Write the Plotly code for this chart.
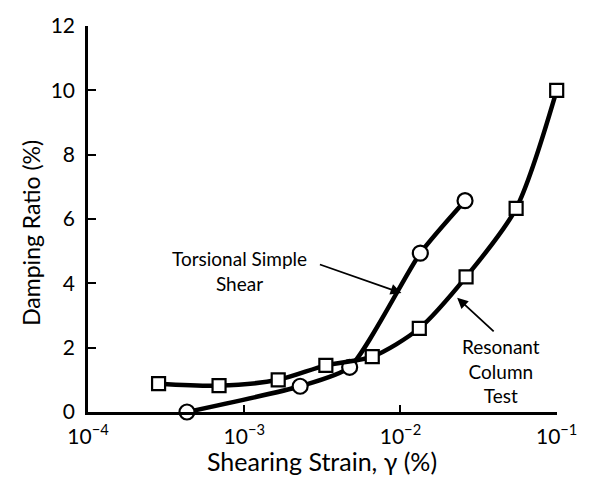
import plotly.graph_objects as go

# Resonant column test results
rc_strain = [2.83e-4, 6.9e-4, 1.65e-3, 3.33e-3, 6.6e-3, 1.32e-2, 2.63e-2, 5.5e-2, 1.0e-1]
rc_damping = [0.88, 0.82, 1.0, 1.45, 1.72, 2.6, 4.2, 6.33, 10.0]

# Torsional simple shear results
ts_strain = [4.3e-4, 2.28e-3, 4.73e-3, 1.34e-2, 2.59e-2]
ts_damping = [0.0, 0.8, 1.39, 4.94, 6.57]

x_tickvals = [1e-4, 1e-3, 1e-2, 1e-1]
x_ticktext = ["10<sup>−4</sup>", "10<sup>−3</sup>", "10<sup>−2</sup>", "10<sup>−1</sup>"]
y_tickvals = [0, 2, 4, 6, 8, 10, 12]

FONT = "Lato"

fig = go.Figure()

fig.add_trace(go.Scatter(
    x=ts_strain, y=ts_damping, mode="lines+markers",
    line=dict(color="black", width=4.5, shape="spline", smoothing=0.6),
    marker=dict(symbol="circle", size=15, color="white",
                line=dict(color="black", width=2.2)),
    cliponaxis=False, showlegend=False,
))
fig.add_trace(go.Scatter(
    x=rc_strain, y=rc_damping, mode="lines+markers",
    line=dict(color="black", width=4.5, shape="spline", smoothing=0.8),
    marker=dict(symbol="square", size=13, color="white",
                line=dict(color="black", width=2.2)),
    cliponaxis=False, showlegend=False,
))

# Curve labels with arrows (x positions in log10 units on the log axis)
fig.add_annotation(x=-1.994, y=3.70, xref="x", yref="y", axref="pixel", ayref="pixel",
                   ax=-83, ay=-29, showarrow=True, arrowhead=2, arrowsize=1.2,
                   arrowwidth=1.8, arrowcolor="black", text="")
fig.add_annotation(x=-3.03, y=4.38, xref="x", yref="y", showarrow=False,
                   text="Torsional Simple<br>Shear", align="center",
                   font=dict(family=FONT, size=19, color="black"))
fig.add_annotation(x=-1.637, y=3.55, xref="x", yref="y", axref="pixel", ayref="pixel",
                   ax=38, ay=35, showarrow=True, arrowhead=2, arrowsize=1.2,
                   arrowwidth=1.8, arrowcolor="black", text="")
fig.add_annotation(x=-1.357, y=1.27, xref="x", yref="y", showarrow=False,
                   text="Resonant<br>Column<br>Test", align="center",
                   font=dict(family=FONT, size=19, color="black"))

# Axis titles
fig.add_annotation(x=-0.123, y=0.465, xref="paper", yref="paper", showarrow=False,
                   xanchor="center", yanchor="middle",
                   text="Damping Ratio (%)", textangle=-90,
                   font=dict(family=FONT, size=23, color="black"))
fig.add_annotation(x=0.498, y=-0.127, xref="paper", yref="paper", showarrow=False,
                   xanchor="center", yanchor="middle",
                   text="Shearing Strain, γ (%)",
                   font=dict(family=FONT, size=25, color="black"))

fig.update_xaxes(
    type="log", range=[-4, -0.998],
    tickvals=x_tickvals, ticktext=x_ticktext,
    ticks="inside", ticklen=7, tickwidth=2, tickcolor="black",
    ticklabelstandoff=4,
    showline=True, linecolor="black", linewidth=2.5,
    showgrid=False, zeroline=False,
    tickfont=dict(family=FONT, size=21, color="black"),
)
fig.update_yaxes(
    range=[0, 12], tickvals=y_tickvals,
    ticks="inside", ticklen=8, tickwidth=2, tickcolor="black",
    ticklabelstandoff=6,
    showline=True, linecolor="black", linewidth=2.5,
    showgrid=False, zeroline=False,
    tickfont=dict(family=FONT, size=21, color="black"),
)

fig.update_layout(
    width=589, height=482,
    margin=dict(l=88, r=29, t=23, b=70),
    paper_bgcolor="white", plot_bgcolor="white",
    font=dict(family=FONT, color="black"),
)

fig.write_html("out.html")
